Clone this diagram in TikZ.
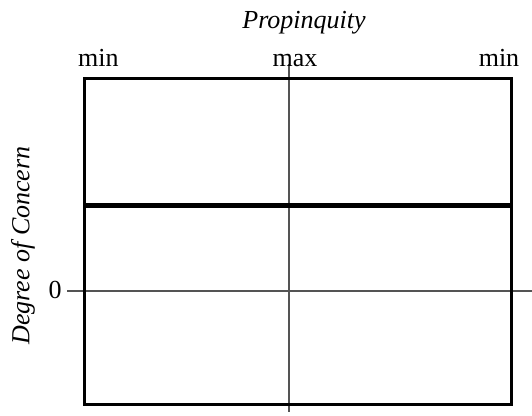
\documentclass[tikz,border=0pt]{standalone}
\usepackage{fontspec}
\setmainfont{Liberation Serif}
\begin{document}
\begin{tikzpicture}[x=1pt,y=-1pt,
  lab/.style={font=\fontsize{26}{30}\selectfont, inner sep=0pt, anchor=base},
  itlab/.style={font=\fontsize{26}{30}\selectfont\itshape, inner sep=0pt, anchor=base},
  thinln/.style={line width=1.6pt, draw=black!67},
  boxln/.style={line width=3pt, draw=black},
  heavyln/.style={line width=5pt, draw=black}]
\useasboundingbox (0,0) rectangle (532,415);
\coordinate (vtop) at (289,64);
\coordinate (vbot) at (289,412);
\coordinate (hleft) at (67,291);
\coordinate (hright) at (532,291);
\coordinate (boxtl) at (84,78);
\coordinate (boxbr) at (511,404);
\coordinate (thl) at (84,205);
\coordinate (thr) at (511,205);
\draw[thinln] (vtop) -- (vbot);
\draw[thinln] (hleft) -- (hright);
\draw[boxln] (boxtl) rectangle (boxbr);
\draw[heavyln] (thl) -- (thr);
\node[itlab] (prop) at (304,28.8) {Propinquity};
\node[lab] (minl) at (98.4,66.5) {min};
\node[lab] (maxc) at (295,66.5) {max};
\node[lab] (minr) at (499,66.5) {min};
\node[lab] (zero) at (55,298) {0};
\node[itlab, rotate=90] (doc) at (29.3,245.5) {Degree of Concern};
\end{tikzpicture}
\end{document}
